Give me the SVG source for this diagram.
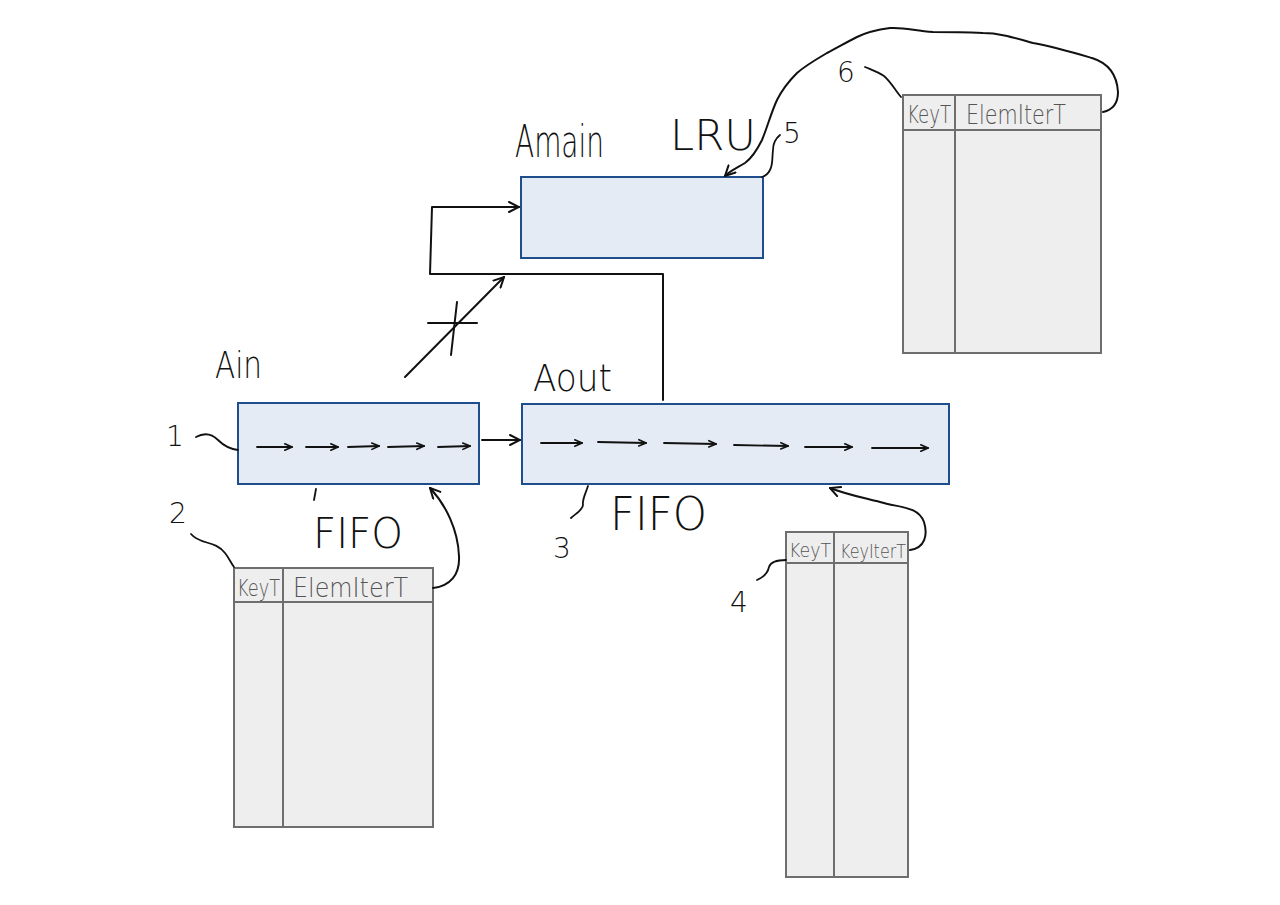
<svg xmlns="http://www.w3.org/2000/svg" width="1280" height="905" viewBox="0 0 1280 905">
  <style>
    .box { fill: #e4ebf4; stroke: #1f4e8c; stroke-width: 2; }
    .tbl { fill: #eeeeee; stroke: #6e6e6e; stroke-width: 2; }
    .ink { fill: none; stroke: #111; stroke-width: 2; stroke-linecap: round; stroke-linejoin: round; }
    .hand { font-family: "DejaVu Sans", "Liberation Sans", sans-serif; fill: #111; font-weight: 200; }
    .cell { font-family: "DejaVu Sans", "Liberation Sans", sans-serif; fill: #555; font-weight: 200; }
  </style>
  <defs>
    <marker id="arr" viewBox="0 0 12 12" refX="11" refY="6" markerWidth="12" markerHeight="12" markerUnits="userSpaceOnUse" orient="auto">
      <path d="M1,1 L11,6 L1,11" fill="none" stroke="#111" stroke-width="2" stroke-linecap="round"/>
    </marker>
    <marker id="sm" viewBox="0 0 10 10" refX="9" refY="5" markerWidth="9" markerHeight="9" markerUnits="userSpaceOnUse" orient="auto">
      <path d="M1,1.5 L9,5 L1,8.5" fill="none" stroke="#111" stroke-width="1.8" stroke-linecap="round"/>
    </marker>
  </defs>
  <rect width="1280" height="905" fill="#ffffff"/>

  <!-- Amain queue -->
  <g id="amain">
    <rect class="box" x="521" y="177" width="242" height="81"/>
    <text class="hand" x="515" y="157" font-size="44" textLength="89" lengthAdjust="spacingAndGlyphs">Amain</text>
    <text class="hand" x="670" y="150" font-size="42" textLength="86" lengthAdjust="spacingAndGlyphs">LRU</text>
  </g>

  <!-- Ain queue -->
  <g id="ain">
    <rect class="box" x="238" y="403" width="241" height="81"/>
    <text class="hand" x="215" y="378" font-size="38" textLength="47" lengthAdjust="spacingAndGlyphs">Ain</text>
    <g class="ink" style="stroke-width:1.8">
      <path d="M257,447 L292,447" marker-end="url(#sm)"/>
      <path d="M306,447 L338,447" marker-end="url(#sm)"/>
      <path d="M348,447 L379,446" marker-end="url(#sm)"/>
      <path d="M388,447 L424,446" marker-end="url(#sm)"/>
      <path d="M438,447 L470,446" marker-end="url(#sm)"/>
    </g>
    <text class="hand" x="313" y="548" font-size="42" textLength="90" lengthAdjust="spacingAndGlyphs">FIFO</text>
  </g>

  <!-- Aout queue -->
  <g id="aout">
    <rect class="box" x="522" y="404" width="427" height="80"/>
    <text class="hand" x="533" y="391" font-size="37" textLength="79" lengthAdjust="spacingAndGlyphs">Aout</text>
    <g class="ink" style="stroke-width:1.8">
      <path d="M541,443 L582,443" marker-end="url(#sm)"/>
      <path d="M598,442 L646,443" marker-end="url(#sm)"/>
      <path d="M664,443 L716,444" marker-end="url(#sm)"/>
      <path d="M734,445 L788,446" marker-end="url(#sm)"/>
      <path d="M805,447 L852,447" marker-end="url(#sm)"/>
      <path d="M872,448 L928,448" marker-end="url(#sm)"/>
    </g>
    <text class="hand" x="610" y="530" font-size="46" textLength="97" lengthAdjust="spacingAndGlyphs">FIFO</text>
  </g>

  <!-- Amain index table -->
  <g id="main-table">
    <rect class="tbl" x="903" y="95" width="198" height="258"/>
    <line class="tbl" x1="903" y1="130" x2="1101" y2="130"/>
    <line class="tbl" x1="955" y1="95" x2="955" y2="353"/>
    <text class="cell" x="907" y="123" font-size="24" textLength="44" lengthAdjust="spacingAndGlyphs">KeyT</text>
    <text class="cell" x="966" y="124" font-size="26" textLength="100" lengthAdjust="spacingAndGlyphs">ElemIterT</text>
  </g>

  <!-- Ain index table -->
  <g id="ain-table">
    <rect class="tbl" x="234" y="568" width="199" height="259"/>
    <line class="tbl" x1="234" y1="602" x2="433" y2="602"/>
    <line class="tbl" x1="283" y1="568" x2="283" y2="827"/>
    <text class="cell" x="237" y="596" font-size="23" textLength="43" lengthAdjust="spacingAndGlyphs">KeyT</text>
    <text class="cell" x="293" y="597" font-size="26" textLength="115" lengthAdjust="spacingAndGlyphs">ElemIterT</text>
  </g>

  <!-- Aout index table -->
  <g id="aout-table">
    <rect class="tbl" x="786" y="532" width="122" height="345"/>
    <line class="tbl" x1="786" y1="563" x2="908" y2="563"/>
    <line class="tbl" x1="834" y1="532" x2="834" y2="877"/>
    <text class="cell" x="789" y="557" font-size="20" textLength="42" lengthAdjust="spacingAndGlyphs">KeyT</text>
    <text class="cell" x="840" y="558" font-size="20" textLength="66" lengthAdjust="spacingAndGlyphs">KeyIterT</text>
  </g>

  <!-- numbered callouts -->
  <g id="callouts">
    <text class="hand" x="166" y="446" font-size="28">1</text>
    <text class="hand" x="169" y="523" font-size="28">2</text>
    <text class="hand" x="553" y="558" font-size="28">3</text>
    <text class="hand" x="730" y="612" font-size="28">4</text>
    <text class="hand" x="783" y="143" font-size="28">5</text>
    <text class="hand" x="837" y="82" font-size="28">6</text>
    <g class="ink" style="stroke-width:1.8">
      <path d="M196,437 C205,432 212,434 218,440 C224,446 230,449 238,450"/>
      <path d="M191,534 C200,545 215,540 225,553 C229,558 231,563 234,567"/>
      <path d="M588,486 C585,495 582,500 583,505 C583,510 575,514 571,518"/>
      <path d="M757,580 C764,577 768,572 769,567 C771,561 778,560 786,560"/>
      <path d="M780,135 C775,139 773,143 773,150 C772,158 773,165 770,170 C768,174 765,176 762,177"/>
      <path d="M865,67 C872,70 878,72 884,76 C891,82 895,90 901,97"/>
      <path d="M316,489 L314,500"/>
    </g>
  </g>

  <!-- connectors -->
  <g id="connectors" class="ink">
    <path d="M663,400 L663,274 L430,274 L432,207 L519,207" marker-end="url(#arr)"/>
    <path d="M405,377 L504,277" marker-end="url(#arr)"/>
    <path d="M428,323 L477,323"/>
    <path d="M457,302 L451,355"/>
    <path d="M482,440 L520,440" marker-end="url(#arr)"/>
    <path d="M433,588 C450,586 460,575 459,556 C458,530 446,505 430,488" marker-end="url(#arr)"/>
    <path d="M910,550 C925,548 928,535 924,522 C918,506 900,508 880,502 C860,497 845,494 830,488" marker-end="url(#arr)"/>
    <path d="M1103,112 C1112,110 1118,104 1118,92 C1117,75 1108,63 1092,58 C1075,53 1055,47 1033,43 C1015,38 1000,33 983,33 C960,32 945,32 933,32 C915,31 905,27 890,28 C875,30 865,33 857,37 C845,43 837,48 827,53 C815,60 805,66 797,73 C788,82 782,90 777,100 C771,113 767,128 762,140 C757,150 752,158 745,163 C737,168 730,171 725,176" marker-end="url(#arr)"/>
  </g>
</svg>
